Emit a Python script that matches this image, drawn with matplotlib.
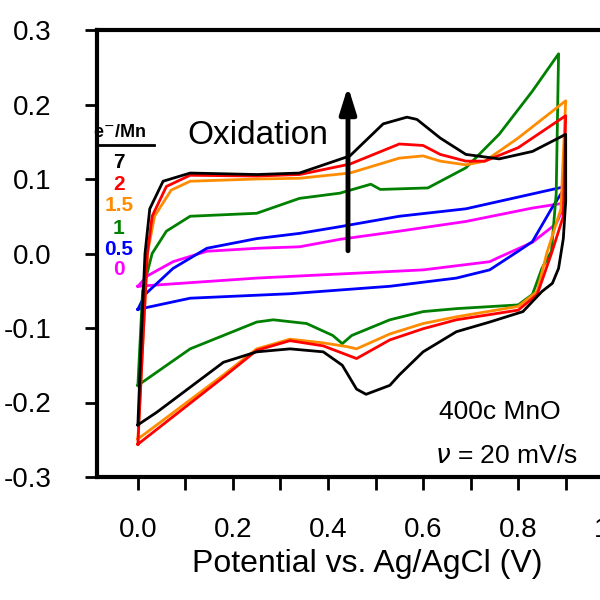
import numpy as np
import matplotlib.pyplot as plt

plt.rcParams['font.family'] = 'Liberation Sans'

# anodic (upper) branches, left to right
x_up_black = [0.0, 0.008, 0.015, 0.025, 0.053, 0.11, 0.25, 0.34, 0.446, 0.516, 0.566, 0.587, 0.636, 0.69, 0.76, 0.83, 0.885, 0.9]
y_up_black = [-0.23, -0.1, 0.0, 0.06, 0.097, 0.108, 0.106, 0.108, 0.131, 0.174, 0.183, 0.18, 0.155, 0.133, 0.127, 0.137, 0.155, 0.16]
x_up_red = [0.0, 0.012, 0.02, 0.03, 0.06, 0.11, 0.25, 0.34, 0.446, 0.55, 0.6, 0.636, 0.69, 0.73, 0.8, 0.9]
y_up_red = [-0.256, -0.1, 0.0, 0.05, 0.09, 0.105, 0.104, 0.106, 0.12, 0.147, 0.145, 0.133, 0.124, 0.124, 0.142, 0.185]
x_up_orange = [0.0, 0.012, 0.02, 0.035, 0.07, 0.11, 0.25, 0.34, 0.446, 0.55, 0.6, 0.636, 0.69, 0.73, 0.8, 0.9]
y_up_orange = [-0.249, -0.1, 0.0, 0.05, 0.085, 0.097, 0.1, 0.101, 0.108, 0.128, 0.131, 0.124, 0.119, 0.124, 0.155, 0.205]
x_up_green = [0.0, 0.01, 0.03, 0.06, 0.11, 0.25, 0.34, 0.425, 0.49, 0.51, 0.61, 0.69, 0.76, 0.83, 0.885]
y_up_green = [-0.177, -0.05, 0.0, 0.03, 0.05, 0.054, 0.074, 0.081, 0.093, 0.086, 0.088, 0.115, 0.16, 0.218, 0.268]
x_up_blue = [0.0, 0.015, 0.074, 0.145, 0.25, 0.34, 0.425, 0.55, 0.69, 0.83, 0.9]
y_up_blue = [-0.075, -0.055, -0.02, 0.007, 0.02, 0.027, 0.036, 0.05, 0.06, 0.08, 0.09]
x_up_magenta = [0.0, 0.02, 0.074, 0.145, 0.25, 0.34, 0.425, 0.55, 0.69, 0.83, 0.9]
y_up_magenta = [-0.044, -0.03, -0.011, 0.003, 0.007, 0.009, 0.019, 0.03, 0.043, 0.061, 0.068]

# cathodic (lower) branches, right to left
x_lo_black = [0.9, 0.895, 0.885, 0.872, 0.85, 0.81, 0.74, 0.67, 0.6, 0.55, 0.53, 0.48, 0.46, 0.43, 0.39, 0.32, 0.25, 0.18, 0.04, 0.0]
y_lo_black = [0.07, 0.02, -0.02, -0.04, -0.051, -0.078, -0.092, -0.105, -0.132, -0.163, -0.177, -0.189, -0.182, -0.15, -0.132, -0.128, -0.132, -0.146, -0.213, -0.23]
x_lo_red = [0.9, 0.895, 0.87, 0.84, 0.8, 0.67, 0.6, 0.53, 0.46, 0.39, 0.32, 0.25, 0.18, 0.04, 0.0]
y_lo_red = [0.185, 0.05, 0.0, -0.055, -0.076, -0.089, -0.101, -0.116, -0.141, -0.124, -0.117, -0.13, -0.166, -0.236, -0.256]
x_lo_orange = [0.9, 0.89, 0.86, 0.84, 0.8, 0.67, 0.6, 0.53, 0.46, 0.44, 0.39, 0.32, 0.25, 0.18, 0.04, 0.0]
y_lo_orange = [0.205, 0.06, 0.0, -0.051, -0.071, -0.085, -0.094, -0.108, -0.128, -0.125, -0.12, -0.115, -0.128, -0.163, -0.23, -0.249]
x_lo_green = [0.885, 0.88, 0.87, 0.85, 0.83, 0.8, 0.67, 0.6, 0.53, 0.45, 0.43, 0.41, 0.355, 0.285, 0.25, 0.11, 0.0]
y_lo_green = [0.268, 0.08, 0.003, -0.02, -0.055, -0.069, -0.074, -0.078, -0.089, -0.11, -0.121, -0.11, -0.094, -0.089, -0.092, -0.128, -0.177]
x_lo_blue = [0.9, 0.87, 0.83, 0.8, 0.74, 0.67, 0.53, 0.32, 0.11, 0.0]
y_lo_blue = [0.09, 0.06, 0.016, 0.003, -0.022, -0.033, -0.044, -0.054, -0.06, -0.075]
x_lo_magenta = [0.9, 0.88, 0.83, 0.76, 0.74, 0.6, 0.25, 0.0]
y_lo_magenta = [0.068, 0.04, 0.015, -0.005, -0.011, -0.022, -0.033, -0.044]

labels = ['7', '2', '1.5', '1', '0.5', '0']
colors = ['black', 'red', '#ff8c00', 'green', 'blue', 'magenta']

curves = [
    (x_up_black, y_up_black, x_lo_black, y_lo_black),
    (x_up_red, y_up_red, x_lo_red, y_lo_red),
    (x_up_orange, y_up_orange, x_lo_orange, y_lo_orange),
    (x_up_green, y_up_green, x_lo_green, y_lo_green),
    (x_up_blue, y_up_blue, x_lo_blue, y_lo_blue),
    (x_up_magenta, y_up_magenta, x_lo_magenta, y_lo_magenta),
]

fig = plt.figure(figsize=(6, 6), dpi=100)
ax = fig.add_axes([97 / 600, 1 - 477 / 600, 540 / 600, 447 / 600])

# draw back to front so black ends on top
for (xu, yu, xl, yl), c in reversed(list(zip(curves, colors))):
    ax.plot(list(xu) + list(xl), list(yu) + list(yl), color=c, lw=2, solid_joinstyle='round')

ax.set_xlim(-0.086, 1.05)
ax.set_ylim(-0.3, 0.3)
ax.set_xticks(np.arange(0, 1.01, 0.1), minor=True)
ax.set_xticks([0.0, 0.2, 0.4, 0.6, 0.8, 1.0])
ax.set_xticklabels(['0.0', '0.2', '0.4', '0.6', '0.8', '1.0'])
ax.set_yticks(np.arange(-0.3, 0.31, 0.1))
ax.set_yticklabels(['-0.3', '-0.2', '-0.1', '0.0', '0.1', '0.2', '0.3'])
ax.tick_params(which='both', direction='out', width=2, length=9, labelsize=20)
ax.tick_params(axis='x', which='both', pad=20)
ax.tick_params(axis='y', which='both', pad=24)
for s in ax.spines.values():
    s.set_linewidth(3)
ax.set_xlabel('Potential vs. Ag/AgCl (V)', fontsize=23, labelpad=4)

# arrow
ax.annotate('', xy=(0.442, 0.228), xytext=(0.442, 0.0),
            arrowprops=dict(arrowstyle='-|>,head_width=0.5,head_length=1.6', lw=3.5, color='black'))
ax.text(0.252, 0.158, 'Oxidation', fontsize=24, ha='center', va='center')

# legend-like labels
ax.text(-0.038, 0.163, r'e$^{-}$/Mn', fontsize=13, fontweight='bold', ha='center', va='center')
ax.plot([-0.085, 0.034], [0.145, 0.145], color='black', lw=2, clip_on=False)
ys = [0.122, 0.093, 0.064, 0.034, 0.005, -0.022]
for lab, c, yy in zip(labels, colors, ys):
    ax.text(-0.04, yy, lab, color=c, fontsize=15, fontweight='bold', ha='center', va='center')

ax.text(0.762, -0.213, '400c MnO', fontsize=19, ha='center', va='center')
ax.text(0.775, -0.272, r'$\nu$ = 20 mV/s', fontsize=19, ha='center', va='center')

fig.savefig('out.png', dpi=100)
